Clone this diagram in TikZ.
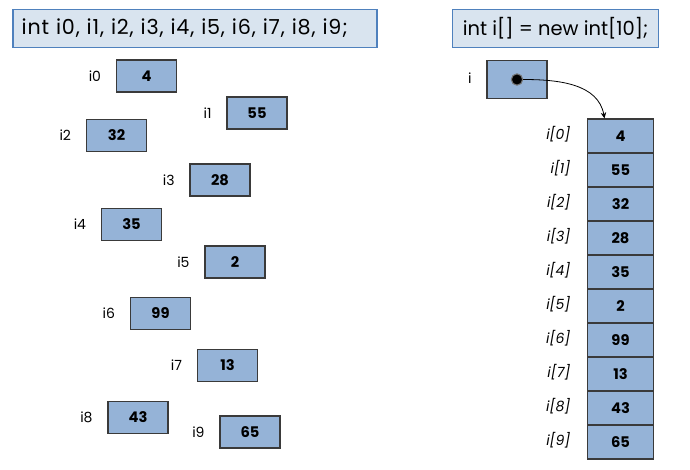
\documentclass[tikz,border=0pt]{standalone}
\usepackage{fontspec}
\setmainfont{Poppins}
\usetikzlibrary{arrows.meta,positioning}
\definecolor{headfill}{HTML}{D9E4EF}
\definecolor{headborder}{HTML}{4F81BD}
\definecolor{cellfill}{HTML}{95B3D7}
\definecolor{cellborder}{HTML}{3A3A3A}
\tikzset{
  header/.style={rectangle, draw=headborder, fill=headfill, line width=0.9pt, inner ysep=0pt, inner xsep=6.5pt, minimum height=29pt},
  cell/.style={rectangle, draw=cellborder, fill=cellfill, line width=0.8pt, minimum width=45pt, minimum height=24pt, inner sep=0pt, font=\fontsize{11}{13}\selectfont\bfseries},
  slot/.style={cell, minimum width=50pt, minimum height=25.5pt},
  varname/.style={font=\fontsize{10.5}{12}\selectfont, inner sep=0pt},
  idxname/.style={font=\fontsize{10.5}{12}\selectfont\itshape, inner sep=0pt},
  ref/.style={-{Stealth[length=4.5pt,width=4pt]}, line width=0.6pt, draw=black}
}
\begin{document}
\begin{tikzpicture}[x=0.75pt,y=-0.75pt]
\useasboundingbox (0,0) rectangle (690,469);

% declarations
\node[header, text width=260pt, align=left, font=\fontsize{15.5}{18}\selectfont\addfontfeature{LetterSpace=4}] (decl) at (195,28.5) {int i0, i1, i2, i3, i4, i5, i6, i7, i8, i9;};
\node[header, minimum width=155pt, font=\fontsize{14.6}{18}\selectfont] (newarr) at (555.5,28.5) {int i[] = new int[10];};

% ten separate variables
\foreach \n/\v/\x/\y in {0/4/146.5/76, 1/55/257/113, 2/32/116.5/135.5, 3/28/220/180,
    4/35/131.5/224.5, 5/2/235/262, 6/99/160.5/313.5, 7/13/227.5/365.5,
    8/43/138/417.5, 9/65/250/432} {
  \node[cell] (v\n) at (\x,\y) {\v};
  \node[varname, left=11pt of v\n] (l\n) {i\n};
}

% reference variable
\node[slot, minimum width=45pt, minimum height=29pt] (ptr) at (517,79.5) {};
\node[varname, left=11pt of ptr, yshift=1pt] (lptr) {i};
\node[circle, fill=black, draw=black!55, line width=0.8pt, minimum size=8.5pt, inner sep=0pt] (dot) at (ptr.center) {};

% array slots
\foreach \k/\v in {0/4, 1/55, 2/32, 3/28, 4/35, 5/2, 6/99, 7/13, 8/43, 9/65} {
  \node[slot] (a\k) at (620.5,136+34*\k) {\v};
  \node[idxname, left=12pt of a\k, yshift=1.5pt] (ia\k) {i[\k]};
}

\draw[ref] (dot.east) to[out=0, in=100] ([xshift=-12pt]a0.north);

\end{tikzpicture}
\end{document}
